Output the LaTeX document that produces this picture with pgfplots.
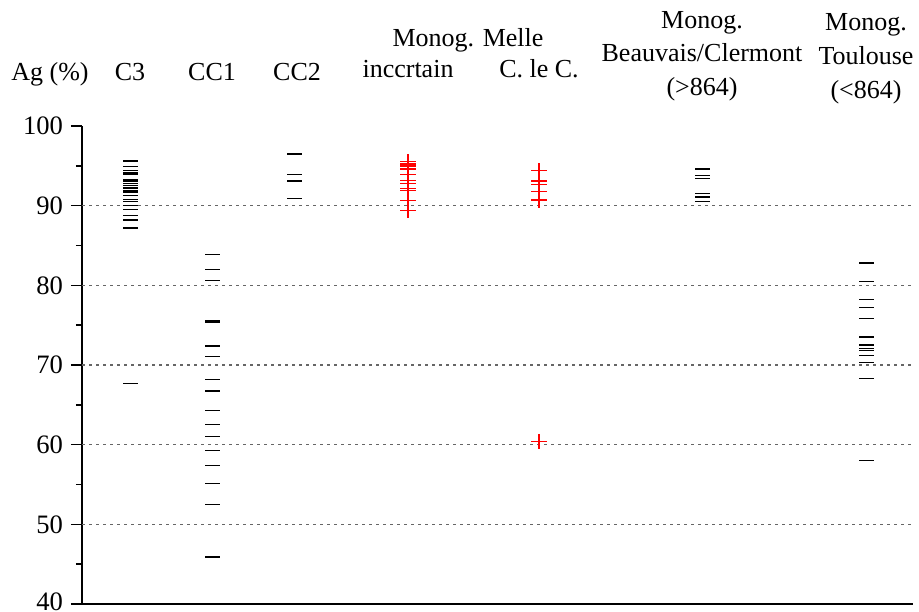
\documentclass[border=0pt]{standalone}
\usepackage{pgfplots}
\pgfplotsset{compat=1.18}
\usepackage{fontspec}
\setmainfont{Liberation Serif}
\newcommand{\tf}{\fontsize{13bp}{15bp}\selectfont}
\begin{document}
\begin{tikzpicture}
\path[use as bounding box] (0,0) rectangle (459.5bp,306bp);
\begin{axis}[
 at={(41bp,4bp)}, anchor=south west, scale only axis,
 width=415.5bp, height=239bp,
 xmin=82, xmax=913, ymin=40, ymax=100,
 axis x line*=bottom, axis y line*=left,
 xtick=\empty, ytick={40,50,...,100}, minor y tick num=1,
 yticklabels={{\raisebox{2.6bp}{40}},50,60,70,80,90,100},
 tick align=outside, major tick length=5.5bp, minor tick length=3bp,
 tick style={black, line width=0.7bp},
 axis line style={black, line width=0.8bp},
 /pgf/number format/assume math mode=true,
 yticklabel style={font=\fontsize{13.3bp}{15bp}\selectfont, xshift=-0.5bp},
 extra y ticks={50,60,70,80,90}, extra y tick labels={},
 extra y tick style={grid=major, major tick length=0pt,
   major grid style={gray!80!black, line width=0.7bp, dash pattern=on 1.4bp off 2.1bp}},
 clip=false,
]
% C3
\addplot[black, only marks, mark=-, mark size=3.75bp, mark options={black, line width=0.65bp}] coordinates {
(130,95.6)(130,94.9)(130,94.4)(130,94.1)(130,93.9)(130,93.3)(130,93.1)(130,92.8)(130,92.5)
(130,92.2)(130,91.9)(130,91.7)(130,91.3)(130,90.8)(130,90.5)(130,90.0)(130,89.5)(130,88.8)
(130,88.2)(130,87.2)(130,67.7)};
% CC1
\addplot[black, only marks, mark=-, mark size=3.75bp, mark options={black, line width=0.65bp}] coordinates {
(212,83.9)(212,82.0)(212,80.6)(212,75.6)(212,75.4)(212,72.4)(212,71.1)(212,68.2)(212,66.75)
(212,64.3)(212,62.5)(212,61.0)(212,59.3)(212,57.4)(212,55.1)(212,52.5)(212,45.9)};
% CC2
\addplot[black, only marks, mark=-, mark size=3.75bp, mark options={black, line width=0.65bp}] coordinates {
(294,96.5)(294,93.9)(294,93.1)(294,90.9)};
% Monog. incertain
\addplot[red, only marks, mark=+, mark size=3.8bp, mark options={red, line width=0.55bp}] coordinates {
(408,95.5)(408,95.3)(408,95.1)(408,94.9)(408,94.7)(408,94.5)(408,93.9)(408,93.2)(408,92.8)
(408,92.2)(408,91.9)(408,90.7)(408,89.4)};
% Melle C. le C.
\addplot[red, only marks, mark=+, mark size=3.8bp, mark options={red, line width=0.55bp}] coordinates {
(539,94.4)(539,93.1)(539,92.6)(539,91.8)(539,90.8)(539,90.7)(539,60.4)};
% Beauvais/Clermont
\addplot[black, only marks, mark=-, mark size=3.75bp, mark options={black, line width=0.65bp}] coordinates {
(702,94.6)(702,94.5)(702,93.75)(702,93.4)(702,91.5)(702,91.1)(702,90.5)};
% Toulouse
\addplot[black, only marks, mark=-, mark size=3.75bp, mark options={black, line width=0.65bp}] coordinates {
(866,82.8)(866,80.5)(866,78.25)(866,77.2)(866,75.8)(866,73.6)(866,73.5)(866,72.5)(866,72.1)
(866,71.8)(866,71.2)(866,70.3)(866,68.3)(866,58.0)};
\end{axis}
\begin{scope}[every node/.style={font=\tf, anchor=base, inner sep=0pt}]
\node at (25bp,265.5bp) {Ag (\%)};
\node at (65bp,265.5bp) {C3};
\node at (106bp,265.5bp) {CC1};
\node at (148.5bp,265.5bp) {CC2};
\node at (234bp,282.5bp) {Monog. Melle};
\node at (204bp,267bp) {inccrtain};
\node at (269.5bp,267bp) {C. le C.};
\node at (351bp,291.5bp) {Monog.};
\node at (351bp,275bp) {Beauvais/Clermont};
\node at (351bp,258bp) {(>864)};
\node at (433bp,290.5bp) {Monog.};
\node at (433bp,273.5bp) {Toulouse};
\node at (433bp,256.5bp) {(<864)};
\end{scope}
\end{tikzpicture}
\end{document}
